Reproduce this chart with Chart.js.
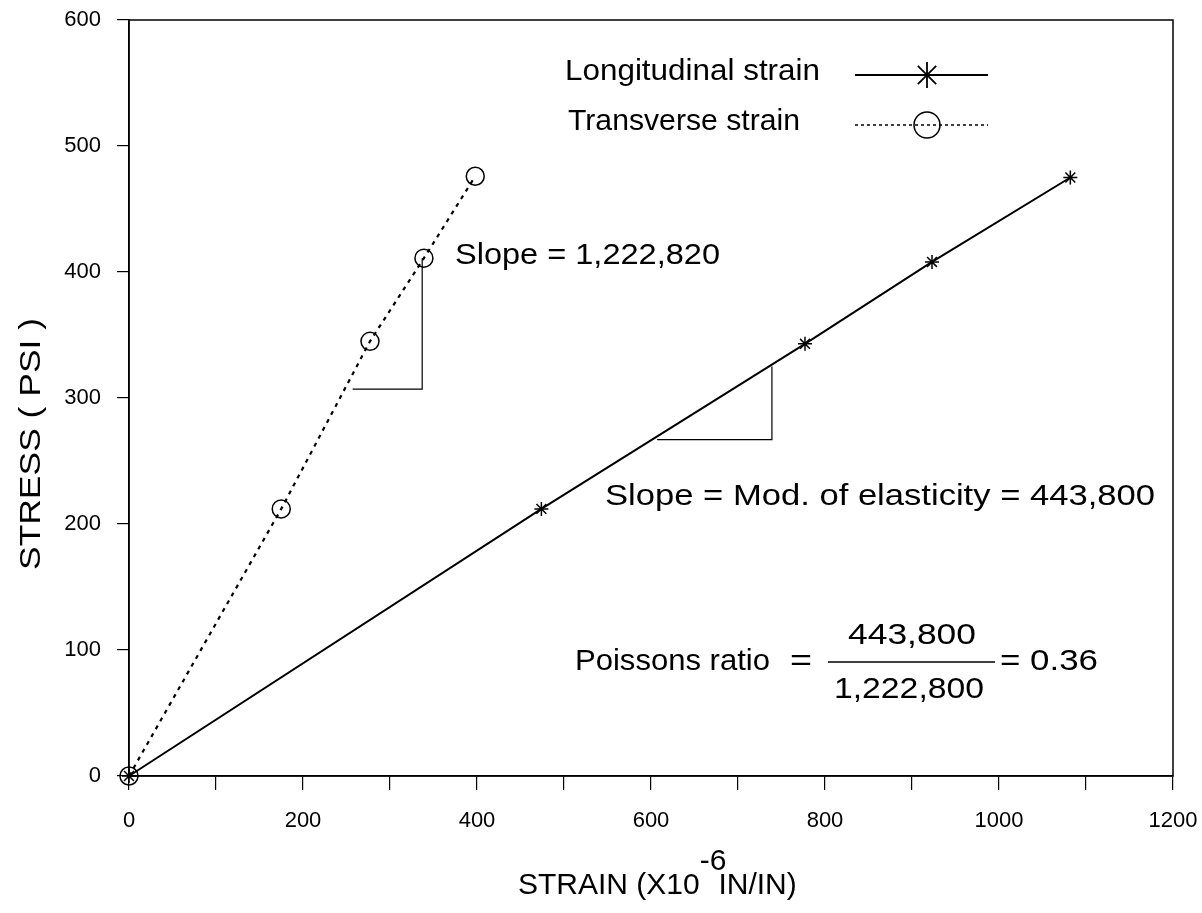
<!DOCTYPE html>
<html>
<head>
<meta charset="utf-8">
<script src="https://cdn.jsdelivr.net/npm/chart.js@4"></script>
<style>
  html, body { margin: 0; padding: 0; background: #fff; }
  #wrap { width: 1202px; height: 913px; }
</style>
</head>
<body>
<div id="wrap"><canvas id="main" width="1202" height="913"></canvas></div>
<script>
// strain in 1e-6 in/in, stress in psi
const longStrain = [0, 474, 777, 923, 1082];
const longStress = [0, 212, 343, 408, 475];
const transStrain = [0, 175, 277, 339, 398];
const transStress = [0, 212, 345, 411, 476];

// slope triangles drawn under each line
const transTriX = [257, 337, 337];
const transTriY = [307, 307, 411];
const longTriX = [607, 739, 739];
const longTriY = [267, 267, 325];

const xTicks = [0, 100, 200, 300, 400, 500, 600, 700, 800, 900, 1000, 1100, 1200];
const xLabelled = [0, 200, 400, 600, 800, 1000, 1200];
const yTicks = [0, 100, 200, 300, 400, 500, 600];

const FONT = "'Liberation Sans', Arial, sans-serif";

function pts(xs, ys) {
  return xs.map((x, i) => ({ x: x, y: ys[i] }));
}

// plotter font is wider than Arial, so stretch text to its width
function fitText(ctx, text, x, y, w) {
  const m = ctx.measureText(text).width;
  ctx.save();
  ctx.translate(x, y);
  ctx.scale(w / m, 1);
  ctx.fillText(text, 0, 0);
  ctx.restore();
}

function asterisk(ctx, x, y, r) {
  ctx.beginPath();
  for (let a = 0; a < 4; a++) {
    const t = a * Math.PI / 4;
    ctx.moveTo(x - r * Math.cos(t), y - r * Math.sin(t));
    ctx.lineTo(x + r * Math.cos(t), y + r * Math.sin(t));
  }
  ctx.stroke();
}

// keep the plot box where the original has it
function noPad(s) {
  s.paddingTop = 0;
  s.paddingBottom = 0;
  s.paddingLeft = 0;
  s.paddingRight = 0;
}

const extras = {
  id: "extras",
  afterDraw(chart) {
    const ctx = chart.ctx;
    const a = chart.chartArea;
    ctx.save();
    ctx.strokeStyle = "#000";
    ctx.fillStyle = "#000";

    // frame
    ctx.lineWidth = 1.5;
    ctx.strokeRect(a.left, a.top, a.right - a.left, a.bottom - a.top);

    // legend
    ctx.font = "30px " + FONT;
    ctx.textBaseline = "middle";
    ctx.textAlign = "left";
    fitText(ctx, "Longitudinal strain", 565, 72, 255);
    fitText(ctx, "Transverse strain", 568, 122, 232);
    ctx.lineWidth = 1.8;
    ctx.beginPath();
    ctx.moveTo(855, 75); ctx.lineTo(988, 75);
    ctx.stroke();
    asterisk(ctx, 927, 75, 13);
    ctx.lineWidth = 1.5;
    ctx.setLineDash([3, 3]);
    ctx.beginPath();
    ctx.moveTo(855, 125); ctx.lineTo(988, 125);
    ctx.stroke();
    ctx.setLineDash([]);
    ctx.beginPath();
    ctx.arc(927, 125, 13, 0, Math.PI * 2);
    ctx.stroke();

    // annotations
    fitText(ctx, "Slope = 1,222,820", 455, 256, 265);
    fitText(ctx, "Slope = Mod. of elasticity = 443,800", 605, 497, 550);
    fitText(ctx, "Poissons ratio", 575, 662, 195);
    fitText(ctx, "=", 790, 662, 22);
    fitText(ctx, "443,800", 848, 636, 128);
    fitText(ctx, "1,222,800", 834, 690, 150);
    ctx.lineWidth = 1.5;
    ctx.beginPath();
    ctx.moveTo(828, 662); ctx.lineTo(995, 662);
    ctx.stroke();
    fitText(ctx, "= 0.36", 1000, 662, 98);

    // y title
    ctx.save();
    ctx.translate(32, 444);
    ctx.rotate(-Math.PI / 2);
    fitText(ctx, "STRESS ( PSI )", -126, 0, 252);
    ctx.restore();

    // x title with superscript
    let x = 518;
    const base = 886;
    ctx.fillText("STRAIN (X10", x, base);
    x += ctx.measureText("STRAIN (X10").width;
    ctx.fillText("-6", x, base - 24);
    x += ctx.measureText("-6").width - 8;
    ctx.fillText("IN/IN)", x, base);

    ctx.restore();
  }
};

const ctx = document.getElementById("main").getContext("2d");
const myChart = new Chart(ctx, {
  type: "scatter",
  data: {
    datasets: [
      {
        label: "Longitudinal strain",
        data: pts(longStrain, longStress),
        showLine: true,
        clip: false,
        borderColor: "#000",
        borderWidth: 2,
        pointStyle: "star",
        pointRadius: 7,
        pointBorderWidth: 1.5,
        pointBorderColor: "#000",
        backgroundColor: "transparent",
      },
      {
        label: "Transverse strain",
        data: pts(transStrain, transStress),
        showLine: true,
        clip: false,
        borderColor: "#000",
        borderWidth: 2.2,
        borderDash: [4, 5],
        pointStyle: "circle",
        pointRadius: 9,
        pointBorderWidth: 1.5,
        pointBorderColor: "#000",
        backgroundColor: "transparent",
      },
      {
        label: "trans slope",
        data: pts(transTriX, transTriY),
        showLine: true,
        borderColor: "#000",
        borderWidth: 1.2,
        pointRadius: 0,
      },
      {
        label: "long slope",
        data: pts(longTriX, longTriY),
        showLine: true,
        borderColor: "#000",
        borderWidth: 1.2,
        pointRadius: 0,
      },
    ],
  },
  options: {
    responsive: false,
    animation: false,
    layout: { autoPadding: false, padding: { left: 0, right: 29, top: 20, bottom: 0 } },
    plugins: {
      legend: { display: false },
      tooltip: { enabled: false },
    },
    scales: {
      x: {
        type: "linear",
        min: 0,
        max: 1200,
        afterFit: (s) => { s.height = 137; noPad(s); },
        afterBuildTicks: (s) => { s.ticks = xTicks.map((v) => ({ value: v })); },
        ticks: {
          color: "#000",
          padding: 18,
          autoSkip: false,
          maxRotation: 0,
          font: { family: FONT, size: 22 },
          callback: (v) => (xLabelled.includes(v) ? String(v) : ""),
        },
        grid: { drawOnChartArea: false, tickLength: 14, color: "#000", lineWidth: 1.2 },
        border: { color: "#000", width: 1.5 },
      },
      y: {
        type: "linear",
        min: 0,
        max: 600,
        afterFit: (s) => { s.width = 129; noPad(s); },
        afterBuildTicks: (s) => { s.ticks = yTicks.map((v) => ({ value: v })); },
        ticks: {
          color: "#000",
          padding: 16,
          font: { family: FONT, size: 22 },
          callback: (v) => String(v),
        },
        grid: { drawOnChartArea: false, tickLength: 12, color: "#000", lineWidth: 1.2 },
        border: { color: "#000", width: 1.5 },
      },
    },
  },
  plugins: [extras],
});
</script>
</body>
</html>
